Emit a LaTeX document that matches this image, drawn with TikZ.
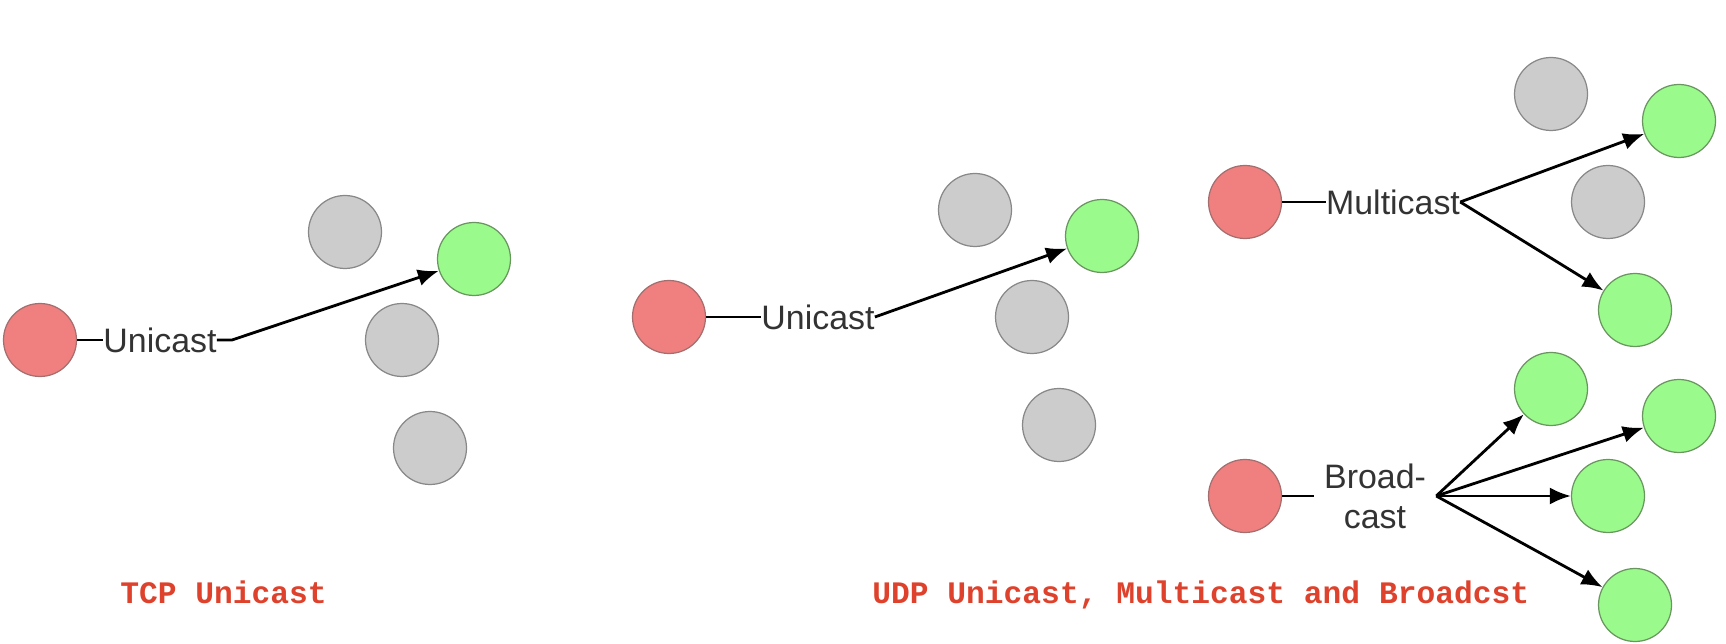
\documentclass[tikz,border=0pt]{standalone}
\usepackage{fontspec}
\setmainfont{Liberation Sans}
\newfontfamily\capfont{Liberation Mono}
\usepackage{xcolor}
\usepackage{tikz}
\usetikzlibrary{arrows.meta, positioning}

\definecolor{srcred}{RGB}{240,128,128}
\definecolor{srcline}{RGB}{165,110,110}
\definecolor{dstgreen}{RGB}{155,250,140}
\definecolor{dstline}{RGB}{105,150,95}
\definecolor{idlegray}{RGB}{204,204,204}
\definecolor{idleline}{RGB}{136,136,136}
\definecolor{labelgray}{RGB}{51,51,51}
\definecolor{capred}{RGB}{222,66,44}

\begin{document}
\begin{tikzpicture}[x=0.02cm, y=-0.02cm, >={Latex[length=0.42cm,width=0.34cm]},
    host/.style={circle, minimum size=1.46cm, inner sep=0pt, line width=0.7pt},
    src/.style={host, draw=srcline, fill=srcred},
    dst/.style={host, draw=dstline, fill=dstgreen},
    idle/.style={host, draw=idleline, fill=idlegray},
    lbl/.style={font=\fontsize{19.3}{22.8}\selectfont, text=labelgray, inner sep=0pt, align=center},
    link/.style={line width=1.6pt},
    caption/.style={font=\capfont\bfseries\fontsize{17.8}{20}\selectfont, text=capred, anchor=base west, inner sep=0pt}]
    \useasboundingbox (0,0) rectangle (1726,644);

    % 1. TCP Unicast
    \node[src]  (t_src)   at (40,340)  {};
    \node[idle] (t_idle1) at (345,232) {};
    \node[dst]  (t_dst)   at (474,259) {};
    \node[idle] (t_idle2) at (402,340) {};
    \node[idle] (t_idle3) at (430,448) {};
    \node[lbl]  (t_lbl)   at (160,340) {Unicast};
    \coordinate (t_bend) at (232,340);
    \draw[link] (t_src) -- (t_lbl);
    \draw[link, ->] (t_lbl.east) -- (t_bend) -- (t_dst);

    % 2. UDP Unicast
    \node[src]  (u_src)   at (669,317)  {};
    \node[idle] (u_idle1) at (975,210)  {};
    \node[dst]  (u_dst)   at (1102,236) {};
    \node[idle] (u_idle2) at (1032,317) {};
    \node[idle] (u_idle3) at (1059,425) {};
    \node[lbl]  (u_lbl)   at (818,317)  {Unicast};
    \draw[link] (u_src) -- (u_lbl);
    \draw[link, ->] (u_lbl.east) -- (u_dst);

    % 3. UDP Multicast
    \node[src]  (m_src)   at (1245,202) {};
    \node[idle] (m_idle1) at (1551,94)  {};
    \node[dst]  (m_dst1)  at (1679,121) {};
    \node[idle] (m_idle2) at (1608,202) {};
    \node[dst]  (m_dst2)  at (1635,310) {};
    \node[lbl]  (m_lbl)   at (1393,202) {Multicast};
    \draw[link] (m_src) -- (m_lbl);
    \draw[link, ->] (m_lbl.east) -- (m_dst1);
    \draw[link, ->] (m_lbl.east) -- (m_dst2);

    % 4. UDP Broadcast
    \node[src] (b_src)  at (1245,496) {};
    \node[dst] (b_dst1) at (1551,389) {};
    \node[dst] (b_dst2) at (1679,416) {};
    \node[dst] (b_dst3) at (1608,496) {};
    \node[dst] (b_dst4) at (1635,605) {};
    \node[lbl, inner sep=0.2cm] (b_lbl) at (1375,496) {Broad-\\cast};
    \draw[link] (b_src) -- (b_lbl);
    \foreach \i in {1,...,4}
        \draw[link, ->] (b_lbl.east) -- (b_dst\i);

    % 5. Chu thich
    \node[caption] (cap_tcp) at (120,603) {TCP Unicast};
    \node[caption] (cap_udp) at (872,603) {UDP Unicast, Multicast and Broadcst};
\end{tikzpicture}
\end{document}
